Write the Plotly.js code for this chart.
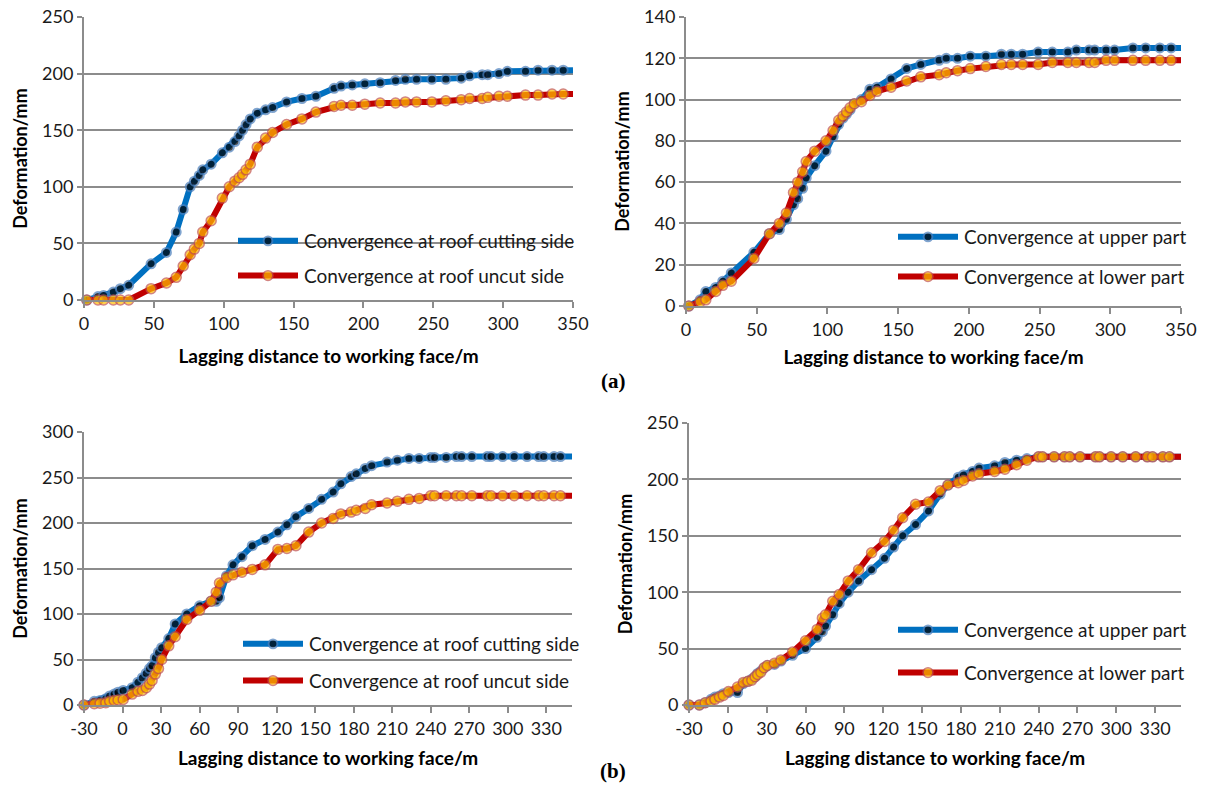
<!DOCTYPE html>
<html>
<head>
<meta charset="utf-8">
<script src="https://cdn.plot.ly/plotly-3.0.1.min.js"></script>
<style>html,body{margin:0;padding:0;background:#fff;}#chart{width:1209px;height:799px;}</style>
</head>
<body>
<div id="chart"></div>
<script>
// ---- (a) shared lagging distances (m); last value is the line end at the axis edge
const xA = [2, 10, 14, 21, 26, 32, 48, 59, 66, 71, 76, 79, 82.5, 85, 91, 99, 104, 108, 111, 113.5, 116, 119, 124, 130, 135, 145, 156, 166, 179, 184, 192, 201, 212, 223, 230, 238, 249, 259, 270, 276, 285, 289, 297, 303, 316, 325, 335, 343, 350];
const aRoofCut = [0, 3, 4, 7, 10, 13, 32, 42, 60, 80, 100, 105, 110, 115, 120, 130, 135, 140, 145, 150, 155, 160, 165, 168, 170, 175, 178, 180, 187, 189, 190, 191, 192, 194, 195, 195, 195, 195, 196, 198, 199, 199, 200, 202, 202, 203, 203, 203, 203];
const aRoofUncut = [0, 0, 0, 0, 0, 0, 10, 15, 20, 30, 40, 45, 50, 60, 70, 90, 100, 105, 108, 111, 115, 120, 135, 143, 148, 155, 160, 166, 171, 172, 172, 173, 174, 174, 175, 175, 175, 176, 177, 178, 178, 179, 180, 180, 181, 181, 182, 182, 182];
const aUpper = [0, 3, 7, 9, 12, 16, 26, 35, 37, 42, 49, 52, 57, 62, 68, 75, 82, 88, 91, 93, 95, 98, 100, 105, 106, 110, 115, 117, 119, 120, 120, 121, 121, 122, 122, 122, 123, 123, 123, 124, 124, 124, 124, 124, 125, 125, 125, 125, 125];
const aLower = [0, 2, 3, 7, 10, 12, 23, 35, 40, 45, 55, 60, 65, 70, 75, 80, 85, 90, 92, 94, 96, 98, 99, 102, 104, 106, 109, 111, 112, 113, 114, 115, 116, 117, 117, 117, 117, 118, 118, 118, 118, 118, 119, 119, 119, 119, 119, 119, 119];

// ---- (b) shared lagging distances (m)
const xB = [-30, -22, -17.5, -13, -10, -6.5, -3.5, 0.5, 7.5, 12, 15.5, 18.5, 21, 23, 25.5, 28, 30.5, 36, 41, 50, 60, 69, 73, 75.5, 81, 86, 93, 101, 111, 121, 128, 135, 145, 155, 164, 170, 178, 182, 189, 194, 206, 214, 223, 231, 240, 243, 252, 260, 264, 272, 284, 287, 296, 305, 315, 324, 328, 336, 341, 350];
const bRoofCut = [0, 4, 5, 7, 10, 12, 14, 16, 19, 25, 30, 35, 40, 43, 52, 58, 63, 73, 89, 100, 109, 114, 114, 118, 142, 154, 163, 175, 182, 190, 198, 207, 216, 226, 234, 243, 251, 254, 260, 263, 267, 269, 271, 271, 272, 272, 272, 273, 273, 273, 273, 273, 273, 273, 273, 273, 273, 273, 273, 273];
const bRoofUncut = [0, 1.5, 2, 2.5, 4, 5, 5.5, 6, 12, 15, 16, 19, 23, 27, 34, 40, 50, 65, 75, 94, 104, 114, 124, 134, 140, 143, 146, 149, 154, 171, 172, 175, 190, 200, 205, 210, 212, 214, 216, 220, 222, 224, 226, 227, 230, 230, 230, 230, 230, 230, 230, 230, 230, 230, 230, 230, 230, 230, 230, 230];
const bUpper = [0, 0, 2, 5, 7, 8, 10, 11, 11, 19, 21, 23, 25, 28, 30, 33, 35, 36, 39, 44, 50, 60, 65, 70, 80, 90, 100, 110, 120, 130, 140, 150, 160, 172, 187, 195, 202, 204, 207, 210, 212, 215, 217, 218.5, 220, 220, 220, 220, 220, 220, 220, 220, 220, 220, 220, 220, 220, 220, 220, 220];
const bLower = [0, 0, 2, 3.5, 5, 7, 8.5, 12, 16, 20, 21, 22, 25, 27, 29, 33, 35, 37, 40, 47, 57, 67, 77, 80, 92, 98, 110, 120, 135, 145, 155, 166, 178, 180, 190, 195, 197, 199, 203, 205, 207, 209, 213, 217, 220, 220, 220, 220, 220, 220, 220, 220, 220, 220, 220, 220, 220, 220, 220, 220];

// ---- tick labels
const xTicksA = [0, 50, 100, 150, 200, 250, 300, 350];
const xTicksB = [-30, 0, 30, 60, 90, 120, 150, 180, 210, 240, 270, 300, 330];

const nameCut = 'Convergence at roof cutting side';
const nameUncut = 'Convergence at roof uncut side';
const nameUpper = 'Convergence at upper part';
const nameLower = 'Convergence at lower part';
const xTitle = 'Lagging distance to working face/m';
const yTitle = 'Deformation/mm';

// ---- styles
const BLUE = 'rgb(0,112,192)', BLUE_EDGE = 'rgb(74,126,187)';
const RED = 'rgb(192,0,0)', RED_EDGE = 'rgb(192,80,77)', GOLD = 'rgb(255,192,0)';
const GRID = 'rgb(140,140,140)';
const FONT = 'Lato, "Open Sans", sans-serif';

function sizes(xs, s) { return xs.map((_, i) => i === xs.length - 1 ? 0 : s); }
function blueTrace(x, y, name, xa, ya, lg) {
  return {x, y, name, xaxis: xa, yaxis: ya, legend: lg, legendgroup: lg + 'b', type: 'scatter', mode: 'lines+markers', cliponaxis: false,
    line: {color: BLUE, width: 6}, marker: {color: 'black', size: sizes(x, 9), line: {color: BLUE_EDGE, width: 2}}};
}
function redTrace(x, y, name, xa, ya, lg) {
  return {x, y, name, xaxis: xa, yaxis: ya, legend: lg, legendgroup: lg + 'r', type: 'scatter', mode: 'lines+markers', cliponaxis: false,
    line: {color: RED, width: 6}, marker: {color: GOLD, size: sizes(x, 10), line: {color: RED_EDGE, width: 1.5}}};
}

const data = [
  blueTrace(xA, aRoofCut, nameCut, 'x', 'y', 'legend'),
  redTrace(xA, aRoofUncut, nameUncut, 'x', 'y', 'legend'),
  blueTrace(xA, aUpper, nameUpper, 'x2', 'y2', 'legend2'),
  redTrace(xA, aLower, nameLower, 'x2', 'y2', 'legend2'),
  blueTrace(xB, bRoofCut, nameCut, 'x3', 'y3', 'legend3'),
  redTrace(xB, bRoofUncut, nameUncut, 'x3', 'y3', 'legend3'),
  blueTrace(xB, bUpper, nameUpper, 'x4', 'y4', 'legend4'),
  redTrace(xB, bLower, nameLower, 'x4', 'y4', 'legend4')
];

function xaxis(domain, anchor, range, ticks, standoff) {
  return {domain, anchor, range, tickmode: 'array', tickvals: ticks, ticktext: ticks.map(String),
    showgrid: false, zeroline: false,
    showline: true, linecolor: GRID, linewidth: 2, ticks: 'outside', ticklen: 6, tickwidth: 2, tickcolor: GRID,
    tickfont: {family: FONT, size: 18, color: '#1a1a1a'},
    title: {text: xTitle, standoff, font: {family: FONT, size: 19, color: '#000', weight: 'bold'}}};
}
function yaxis(domain, anchor, range, dtick) {
  return {domain, anchor, range, dtick, tick0: 0, tickmode: 'linear', showgrid: true, gridcolor: GRID, gridwidth: 2, zeroline: false,
    showline: true, linecolor: GRID, linewidth: 2, ticks: 'outside', ticklen: 5, tickwidth: 2, tickcolor: GRID,
    tickfont: {family: FONT, size: 18, color: '#1a1a1a'},
    title: {text: yTitle, standoff: 10, font: {family: FONT, size: 18, color: '#000', weight: 'bold'}}};
}
function legend(x, y, gap) {
  return {x, y, xanchor: 'left', yanchor: 'top', bgcolor: 'rgba(0,0,0,0)', tracegroupgap: gap,
    font: {family: FONT, size: 19, color: '#1a1a1a'}, itemwidth: 30};
}

const H = 799, W = 1209;
const layout = {
  width: W, height: H, margin: {l: 0, r: 0, t: 0, b: 0}, paper_bgcolor: '#fff', plot_bgcolor: '#fff',
  xaxis: xaxis([84 / W, 573 / W], 'y', [0, 350], xTicksA, 17),
  yaxis: yaxis([1 - 300 / H, 1 - 17 / H], 'x', [0, 250], 50),
  xaxis2: xaxis([686 / W, 1181 / W], 'y2', [0, 350], xTicksA, 12),
  yaxis2: yaxis([1 - 306 / H, 1 - 17 / H], 'x2', [0, 140], 20),
  xaxis3: xaxis([84 / W, 572 / W], 'y3', [-30, 350], xTicksB, 14),
  yaxis3: yaxis([1 - 705 / H, 1 - 432 / H], 'x3', [0, 300], 50),
  xaxis4: xaxis([689 / W, 1181 / W], 'y4', [-30, 350], xTicksB, 14),
  yaxis4: yaxis([1 - 705 / H, 1 - 423 / H], 'x4', [0, 250], 50),
  legend: legend(248 / W, 1 - 222 / H, 7),
  legend2: legend(908 / W, 1 - 218 / H, 12),
  legend3: legend(253 / W, 1 - 625 / H, 9),
  legend4: legend(908 / W, 1 - 611 / H, 15),
  showlegend: true,
  annotations: [
    {text: '<b>(a)</b>', xref: 'paper', yref: 'paper', x: 613 / W, y: 1 - 381 / H, showarrow: false, font: {family: '"Liberation Serif", "Times New Roman", serif', size: 21, color: '#000'}},
    {text: '<b>(b)</b>', xref: 'paper', yref: 'paper', x: 613 / W, y: 1 - 785 / H, showarrow: false, font: {family: '"Liberation Serif", "Times New Roman", serif', size: 21, color: '#000'}}
  ]
};

// Excel-style longer legend key lines with the marker centred on them
function restyleLegendKeys(gd) {
  gd.querySelectorAll('.legendlines path').forEach(function (p) { p.setAttribute('d', 'M-10,0h60'); });
  gd.querySelectorAll('g.traces').forEach(function (g) {
    g.querySelectorAll('text').forEach(function (t) { t.setAttribute('transform', 'translate(16,0)'); });
  });
  gd.querySelectorAll('.scrollbox').forEach(function (s) { s.removeAttribute('clip-path'); });
}

Plotly.newPlot('chart', data, layout, {displayModeBar: false, staticPlot: true}).then(function (gd) {
  restyleLegendKeys(gd);
});
</script>
</body>
</html>
